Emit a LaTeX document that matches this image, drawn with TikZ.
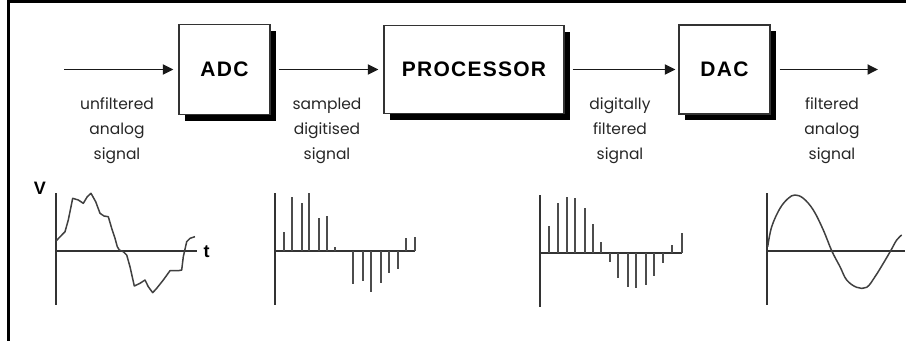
\documentclass[tikz,border=0pt]{standalone}
\usepackage{fontspec}
\usetikzlibrary{arrows.meta,shadows}
\newfontfamily\boxfont{Liberation Sans}[LetterSpace=6]
\newfontfamily\axisfont{Liberation Sans}
\newfontfamily\labelfont{Poppins}

\tikzset{
  block/.style={draw=black!80, line width=1.3pt, fill=white, inner sep=0pt,
    font=\boxfont\bfseries\fontsize{21}{24}\selectfont,
    drop shadow={opacity=1, fill=black, shadow xshift=6pt, shadow yshift=-6pt}},
  flow/.style={line width=1.8pt, draw=black!90,
    -{Triangle[length=10.5pt,width=10pt]}},
  caption/.style={align=center, inner sep=0pt, text=black!85,
    font=\labelfont\fontsize{15.5}{25}\selectfont},
  axis/.style={line width=1.8pt, draw=black!80},
  trace/.style={line width=1.5pt, draw=black!75, line join=round},
  stem/.style={line width=2pt, draw=black!70},
  axislabel/.style={inner sep=0pt, font=\axisfont\bfseries\fontsize{18}{20}\selectfont}
}

\begin{document}
\begin{tikzpicture}[x=1pt, y=-1pt]
\useasboundingbox (0,0) rectangle (906,341);

% frame edges
\draw[line width=3pt] (7,1.5) -- (906,1.5);
\draw[line width=3pt] (8.5,0) -- (8.5,341);

% processing chain
\coordinate (in) at (64,69.5);
\coordinate (out) at (878,69.5);
\node[block, minimum width=91pt, minimum height=90pt] (adc) at (224.5,69.5) {ADC};
\node[block, minimum width=180pt, minimum height=88pt] (proc) at (474,69.5) {PROCESSOR};
\node[block, minimum width=91pt, minimum height=89pt] (dac) at (724.5,69.5) {DAC};

\draw[flow, shorten >=5pt] (in) -- (adc.west);
\draw[flow, shorten <=8pt, shorten >=5pt] (adc.east) -- (proc.west);
\draw[flow, shorten <=8pt, shorten >=3pt] (proc.east) -- (dac.west);
\draw[flow, shorten <=9pt] (dac.east) -- (out);

% signal descriptions
\node[caption] (c1) at (117,131) {unfiltered\\analog\\signal};
\node[caption] (c2) at (327,131) {sampled\\digitised\\signal};
\node[caption] (c3) at (620,131) {digitally\\filtered\\signal};
\node[caption] (c4) at (832,131) {filtered\\analog\\signal};

% noisy analog input
\draw[axis] (56,193) -- (56,305);
\draw[axis] (56,251) -- (197,251);
\node[axislabel] (vlab) at (40,188) {V};
\node[axislabel] (tlab) at (206.5,252) {t};
\draw[trace] (56,241) -- (65,231.7) -- (68.3,220) -- (72.7,198.3) -- (78.3,200)
  -- (83.3,203.3) -- (87.3,196.7) -- (91,193.3) -- (95.7,201.7) -- (100,213.3)
  -- (104,216) -- (108.3,216.7) -- (111.7,228.3) -- (115,238.3) -- (117.3,246.7)
  -- (119.3,250) -- (123.3,251.7) -- (126.7,255) -- (130,266.7) -- (134.3,286)
  -- (140,283.3) -- (145,280) -- (148.3,286.7) -- (152.7,292.7) -- (156.7,288.3)
  -- (163.3,280) -- (170,270.7) -- (178.3,270.7) -- (181.7,270) -- (183.3,256.7)
  -- (186.7,241.7) -- (190,238.3) -- (195,236.7);

% sampled signal
\draw[axis] (275,193) -- (275,305);
\draw[axis] (275,251) -- (415.3,251);
\foreach \x/\y in {284/231.7, 292/196.7, 301.7/203.3, 309.3/192.7, 319/217.7,
  327.3/215.7, 335.3/246.7, 353.3/284.3, 362.7/281, 371/291.7, 380.7/283.3,
  388.7/272.7, 398/269, 406/238.3, 415.3/236.7}
  \draw[stem] (\x,251) -- (\x,\y);

% digitally filtered samples
\draw[axis] (540,195) -- (540,306.7);
\draw[axis] (540,252.7) -- (681.7,252.7);
\foreach \x/\y in {549.3/226, 557.7/203.3, 566.7/196.7, 575/198.3, 584.7/208.3,
  592.7/224.3, 600.7/241.7, 610/261.7, 618.3/277.7, 627.7/286.7, 636/288.3,
  645.7/285, 654/276, 663.3/262.7, 671.7/245, 681.7/232.7}
  \draw[stem] (\x,252.7) -- (\x,\y);

% reconstructed analog output
\draw[axis] (766.7,193) -- (766.7,305);
\draw[axis] (766.7,250.7) -- (905,250.7);
\draw[trace] plot[smooth, tension=0.6] coordinates {(767.7,246.7) (771.7,226.7)
  (780,208.3) (788.3,198.3) (795,195) (803.3,198.3) (813.3,210) (823.3,230)
  (831.7,250.7) (840,266.7) (846.7,280) (856.7,287.3) (866.7,287.3) (875,276.7)
  (883.3,263.3) (890.7,250.7) (896.7,240) (901.7,235)};
\end{tikzpicture}
\end{document}
